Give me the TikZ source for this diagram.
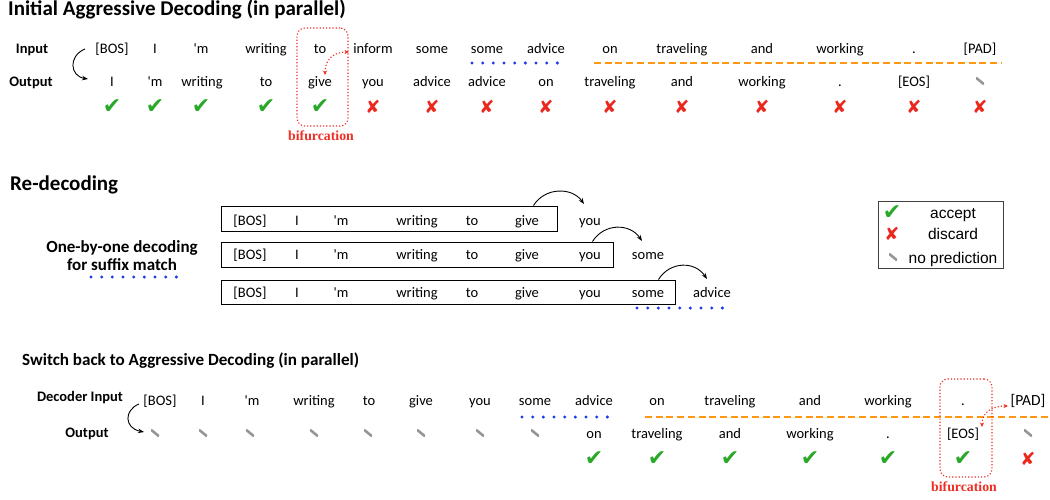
\documentclass[tikz,border=0pt]{standalone}
\usepackage{fontspec}
\setmainfont{Carlito}[Ligatures=TeXOff]
\newfontfamily\legfont{Liberation Sans}
\newfontfamily\bifont{Liberation Serif}
\newfontfamily\symfont{DejaVu Sans}
\usetikzlibrary{arrows.meta}
\definecolor{okgreen}{RGB}{40,170,40}
\definecolor{badred}{RGB}{235,40,30}
\definecolor{blueA}{RGB}{30,60,235}
\definecolor{orangeA}{RGB}{255,150,20}
\definecolor{bifred}{RGB}{238,45,35}
\definecolor{nogray}{RGB}{150,150,150}
\tikzset{
 tok/.style={anchor=base, inner sep=0pt, text height=10pt, text depth=3pt, font=\fontsize{14.5}{16}\selectfont},
 lbl/.style={anchor=base, inner sep=0pt, font=\fontsize{14.5}{16}\selectfont\bfseries},
 ttl/.style={anchor=base west, inner sep=0pt, font=\fontsize{21}{24}\selectfont\bfseries},
 ttlsmall/.style={anchor=base west, inner sep=0pt, font=\fontsize{17.1}{20}\selectfont\bfseries},
 side/.style={anchor=base, inner sep=0pt, font=\fontsize{17}{20}\selectfont\bfseries},
 okmk/.style={inner sep=0pt, text=okgreen, font=\symfont\fontsize{22}{22}\selectfont},
 badmk/.style={inner sep=0pt, text=badred, font=\symfont\fontsize{18}{18}\selectfont},
 nomk/.style={inner sep=0pt, minimum width=8pt, minimum height=6.5pt,
   path picture={\draw[nogray, line width=2.6pt] (path picture bounding box.north west) -- (path picture bounding box.south east);}},
 bluedots/.style={draw=blueA, line width=3.3pt, line cap=round, dash pattern=on 0pt off 10.67pt},
 orangedash/.style={draw=orangeA, line width=2.6pt, dash pattern=on 7pt off 3.7pt},
 bifbox/.style={draw=bifred, line width=1.1pt, dash pattern=on 1.2pt off 2pt, rounded corners=8pt},
 bifarrow/.style={draw=bifred, line width=1.1pt, dash pattern=on 1.2pt off 2pt, {Stealth[length=4.5pt,width=4pt]}-{Stealth[length=4.5pt,width=4pt]}},
 bif/.style={anchor=base, inner sep=0pt, text=bifred, font=\bifont\bfseries\fontsize{13.8}{15}\selectfont},
 curvearr/.style={draw, line width=0.9pt, -{Stealth[length=6pt,width=4.5pt]}},
 seqbox/.style={draw, line width=1pt, inner sep=0pt},
 legtxt/.style={anchor=base, inner sep=0pt, font=\legfont\fontsize{15.5}{17}\selectfont},
}
\begin{document}
\begin{tikzpicture}[x=1pt,y=-1pt]
\useasboundingbox (0,0) rectangle (1050,499);

% ---------- Section 1 ----------
\node[ttl] (t1) at (8,15) {Initial Aggressive Decoding (in parallel)};
\node[lbl] (lin) at (32,53) {Input};
\node[lbl] (lout) at (31,86) {Output};
\foreach \x/\t [count=\i] in {112/{[BOS]},155/I,201/'m,266/writing,320/to,373/inform,432/some,487/some,546/advice,610/on,682/traveling,762/and,840/working,914/.,980/{[PAD]}}
  \node[tok] (a\i) at (\x,53) {\t};
\foreach \x/\t [count=\i] in {112/I,155/'m,202/writing,266/to,320/give,373/you,432/advice,487/advice,546/on,610/traveling,682/and,762/working,840/.,914/{[EOS]}}
  \node[tok] (b\i) at (\x,86) {\t};
\node[nomk] (b15) at (980,81) {};
\foreach \x [count=\i] in {112,155,201,266,320}
  \node[okmk] (ok\i) at (\x,107) {✔};
\foreach \x [count=\i] in {373,432,487,546,610,682,762,840,914,980}
  \node[badmk] (bad\i) at (\x,107) {✘};
\draw[bluedots] (472,63) -- (568,63);
\draw[orangedash] (594,63) -- (1002,63);
\coordinate (c1s) at (85,49);
\coordinate (c1e) at (88,79);
\draw[curvearr] (c1s) .. controls (68,56) and (70,76) .. (c1e);
\node[bifbox, minimum width=51pt, minimum height=98pt] (bx1) at (322.5,77) {};
\node[bif] (bf1) at (321,140) {bifurcation};
\coordinate (r1a) at (325,75);
\coordinate (r1b) at (349,52);
\draw[bifarrow] (r1a) .. controls (325,60) and (333,52) .. (r1b);

% ---------- Section 2 ----------
\node[ttl] (t2) at (10,190) {Re-decoding};
\node[side] (s1) at (122,252) {One-by-one decoding};
\node[side] (s2) at (122,270) {for suffix match};
\draw[bluedots] (91,277) -- (177,277);
\node[seqbox, minimum width=336pt, minimum height=25pt] (q1) at (389,218.5) {};
\node[seqbox, minimum width=392pt, minimum height=25pt] (q2) at (417,254.5) {};
\node[seqbox, minimum width=454pt, minimum height=24pt] (q3) at (448,292) {};
\foreach \x/\t [count=\i] in {250/{[BOS]},297/I,341/'m,417/writing,472/to,527/give}
  \node[tok] (p\i) at (\x,225) {\t};
\node[tok] (p7) at (590,225) {you};
\foreach \x/\t [count=\i] in {250/{[BOS]},297/I,341/'m,417/writing,472/to,527/give,590/you}
  \node[tok] (m\i) at (\x,259) {\t};
\node[tok] (m8) at (648,259) {some};
\foreach \x/\t [count=\i] in {250/{[BOS]},297/I,341/'m,417/writing,472/to,527/give,590/you,648/some}
  \node[tok] (n\i) at (\x,297) {\t};
\node[tok] (n9) at (712,297) {advice};
\draw[bluedots] (637,308) -- (733,308);
\coordinate (e1) at (584,204);
\coordinate (e2) at (642,241);
\coordinate (e3) at (707,279);
\draw[curvearr] ([xshift=-24pt]q1.north east) .. controls (545,187) and (572,187) .. (e1);
\draw[curvearr] ([xshift=-21pt]q2.north east) .. controls (604,223) and (630,223) .. (e2);
\draw[curvearr] ([xshift=-17pt]q3.north east) .. controls (670,261) and (695,261) .. (e3);

% legend
\node[draw=black!75, line width=0.9pt, minimum width=125pt, minimum height=67pt, inner sep=0pt] (leg) at (940.5,234.5) {};
\node[okmk] (lk1) at (892,213) {✔};
\node[badmk] (lk2) at (892,234) {✘};
\node[nomk] (lk3) at (893,257) {};
\node[legtxt] (lt1) at (953,218) {accept};
\node[legtxt] (lt2) at (953,239.5) {discard};
\node[legtxt] (lt3) at (953,263) {no prediction};

% ---------- Section 3 ----------
\node[ttlsmall] (t3) at (22,365) {Switch back to Aggressive Decoding (in parallel)};
\node[lbl] (din) at (80,401) {Decoder Input};
\node[lbl] (dout) at (87,437) {Output};
\foreach \x/\t [count=\i] in {160/{[BOS]},203/I,252/'m,314/writing,369/to,421/give,480/you,535/some,594/advice,657/on,730/traveling,810/and,888/working,963/.}
  \node[tok] (u\i) at (\x,405) {\t};
\node[tok, font=\fontsize{15.5}{17}\selectfont] (u15) at (1028,405) {[PAD]};
\foreach \x [count=\i] in {155,203,250,314,368,421,480,535}
  \node[nomk] (v\i) at (\x,433) {};
\foreach \x/\t [count=\i from 9] in {594/on,657/traveling,730/and,810/working,888/.,963/{[EOS]}}
  \node[tok] (v\i) at (\x,438) {\t};
\node[nomk] (v15) at (1028,433) {};
\foreach \x [count=\i] in {594,657,730,810,888,963}
  \node[okmk] (ck\i) at (\x,459) {✔};
\node[badmk] (cx1) at (1028,459) {✘};
\draw[bluedots] (522,417) -- (618,417);
\draw[orangedash] (645,417) -- (1050,417);
\coordinate (c3s) at (139,404);
\coordinate (c3e) at (144,432);
\draw[curvearr] (c3s) .. controls (124,410) and (124,428) .. (c3e);
\node[bifbox, minimum width=52pt, minimum height=98pt] (bx2) at (966,428) {};
\node[bif] (bf2) at (964,491) {bifurcation};
\coordinate (r2a) at (982,427);
\coordinate (r2b) at (1008,406);
\draw[bifarrow] (r2a) .. controls (982,412) and (992,406) .. (r2b);
\end{tikzpicture}
\end{document}
